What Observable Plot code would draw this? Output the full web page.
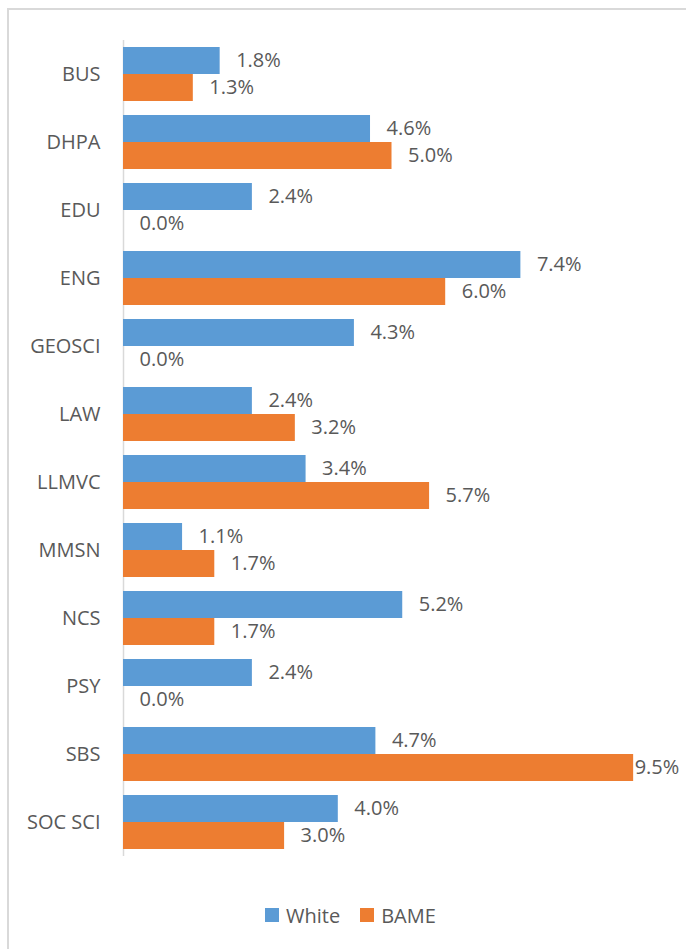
<!DOCTYPE html>
<html>
<head>
<meta charset="utf-8">
<script src="https://cdn.jsdelivr.net/npm/d3@7"></script>
<script src="https://cdn.jsdelivr.net/npm/@observablehq/plot@0.6"></script>
<style>
  html, body { margin: 0; padding: 0; background: #fff; overflow: hidden; }
  body { width: 686px; height: 949px; position: relative; font-family: "Open Sans", sans-serif; }
  #frame { position: absolute; left: 7px; top: 8px; width: 720px; height: 980px; border: 2px solid #d9d9d9; box-sizing: border-box; }
  #chart { position: absolute; left: 0; top: 0; }
  #legend { position: absolute; left: 265px; top: 900px; height: 30px; display: flex; align-items: center; gap: 20px; font-size: 20px; color: #595959; }
  #legend span.item { display: inline-flex; align-items: center; gap: 7px; }
  #legend span.sw { display: inline-block; width: 14px; height: 14px; }
</style>
</head>
<body>
<div id="frame"></div>
<div id="chart"></div>
<div id="legend"></div>
<script>
const categories = ["BUS","DHPA","EDU","ENG","GEOSCI","LAW","LLMVC","MMSN","NCS","PSY","SBS","SOC SCI"];
const series = ["White","BAME"];
const whiteValues = [1.8, 4.6, 2.4, 7.4, 4.3, 2.4, 3.4, 1.1, 5.2, 2.4, 4.7, 4.0];
const bameValues  = [1.3, 5.0, 0.0, 6.0, 0.0, 3.2, 5.7, 1.7, 1.7, 0.0, 9.5, 3.0];
const colors = ["#5B9BD5", "#ED7D31"];

const data = [];
categories.forEach((c, i) => {
  data.push({cat: c, series: "White", value: whiteValues[i]});
  data.push({cat: c, series: "BAME", value: bameValues[i]});
});
const fmt = d => d.value.toFixed(1) + "%";
// labels that would run past the plot edge are pulled in against the bar end
const fits = d => d.value < 9;

const chart = Plot.plot({
  width: 686,
  height: 949,
  marginLeft: 123,
  marginRight: 26,
  marginTop: 37,
  marginBottom: 89,
  style: {fontFamily: "'Open Sans', sans-serif", fontSize: "20px", color: "#595959", background: "transparent"},
  x: {domain: [0, 10], axis: null},
  y: {domain: series, axis: null, padding: 0},
  fy: {domain: categories, paddingInner: 0.2, paddingOuter: 0.1, label: null, tickSize: 0, tickPadding: 23},
  color: {domain: series, range: colors},
  marks: [
    Plot.ruleX([0], {stroke: "#d9d9d9", strokeWidth: 1.5, insetTop: -7, insetBottom: -7}),
    Plot.barX(data, {fy: "cat", y: "series", x: "value", fill: "series"}),
    Plot.text(data.filter(fits), {fy: "cat", y: "series", x: "value", text: fmt, textAnchor: "start", dx: 16, fill: "#595959", fontSize: 20}),
    Plot.text(data.filter(d => !fits(d)), {fy: "cat", y: "series", x: "value", text: fmt, textAnchor: "start", dx: 1, fill: "#595959", fontSize: 20})
  ]
});
document.getElementById("chart").appendChild(chart);

const legend = document.getElementById("legend");
series.forEach((s, i) => {
  const item = document.createElement("span");
  item.className = "item";
  const sw = document.createElement("span");
  sw.className = "sw";
  sw.style.background = colors[i];
  item.appendChild(sw);
  item.appendChild(document.createTextNode(s));
  legend.appendChild(item);
});
</script>
</body>
</html>
